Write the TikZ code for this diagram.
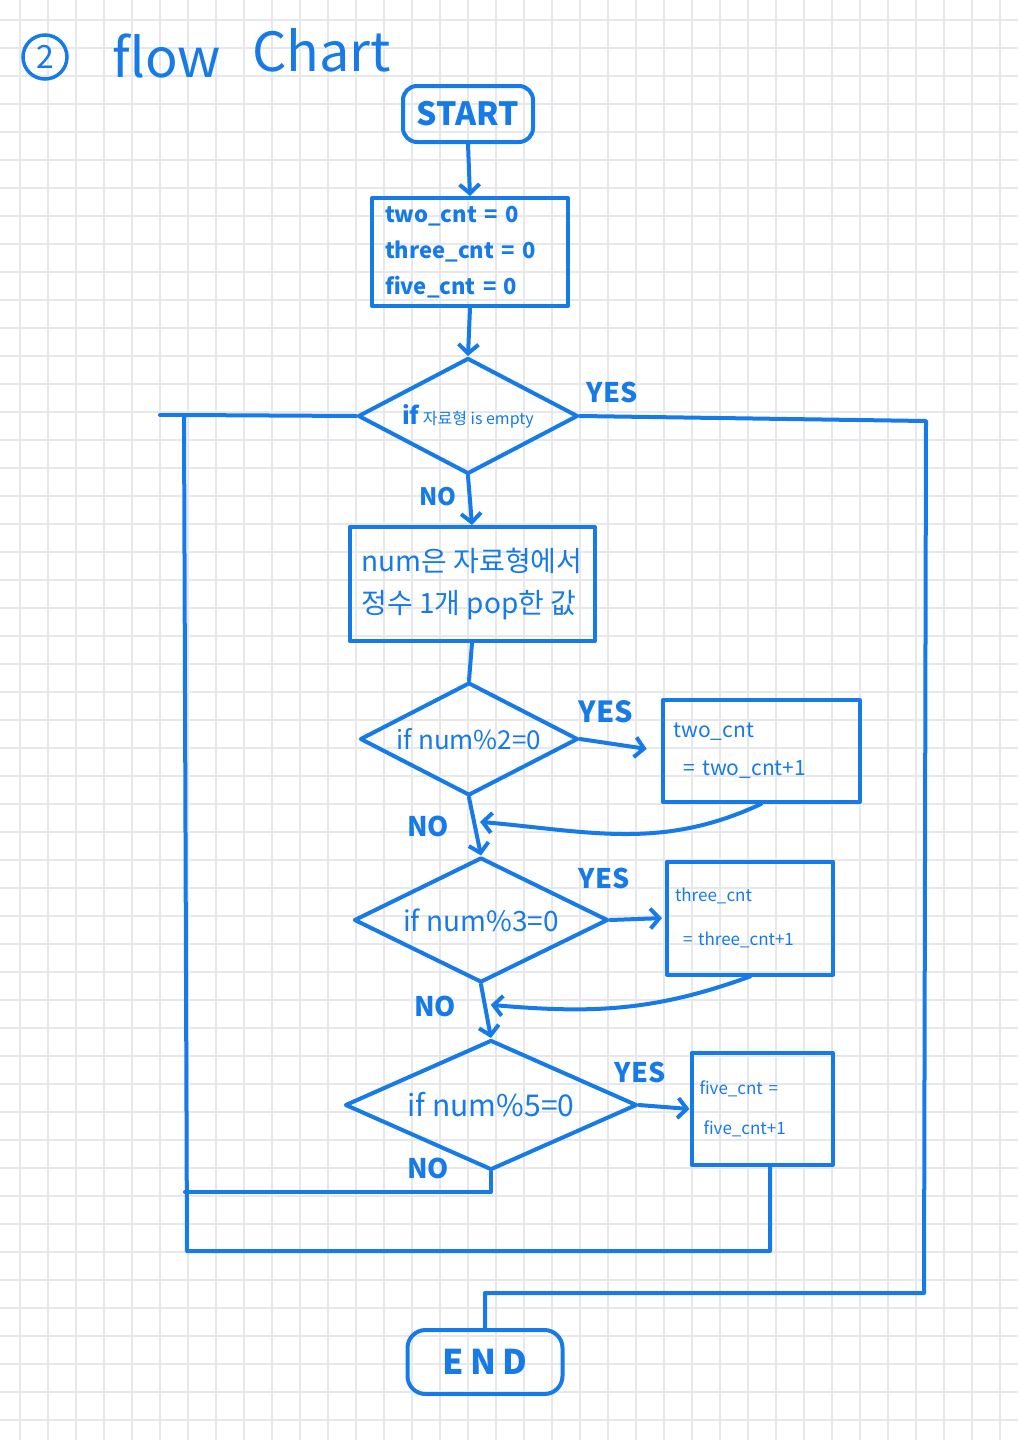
\documentclass[tikz,border=0pt]{standalone}
\usepackage{fontspec}
\usetikzlibrary{shapes.geometric,arrows.meta,calc}
\newfontfamily\hand{Noto Sans CJK KR}
\newcommand\sz[2]{\fontsize{#1}{#2}\selectfont}
\definecolor{ink}{RGB}{22,122,232}
\definecolor{gridline}{RGB}{232,232,236}
\tikzset{
  base/.style={draw=ink, line width=4pt, text=ink, inner sep=0pt, line join=round},
  procbox/.style={base, rectangle},
  termbox/.style={base, rectangle, rounded corners=14pt},
  decision/.style={base, diamond},
  inside/.style={text=ink, inner sep=0pt},
  link/.style={draw=ink, line width=4pt, line join=round, line cap=round},
  flow/.style={link, -{Straight Barb[length=9pt,width=20pt,line width=4pt]}},
  tag/.style={text=ink, inner sep=0pt, font=\hand\bfseries\sz{27}{30}},
}
\begin{document}
\begin{tikzpicture}[x=1pt, y=-1pt]
  % paper with a square grid
  \fill[white] (0,0) rectangle (1018,1440);
  \useasboundingbox (0,0) rectangle (1018,1440);
  \foreach \i in {0,...,35} \draw[gridline, line width=1.4pt] ({20+28*\i},0) -- ++(0,1440);
  \foreach \j in {0,...,50} \draw[gridline, line width=1.4pt] (0,{20+28*\j}) -- ++(1018,0);

  % heading
  \node[circle, draw=ink, line width=3.5pt, minimum size=44pt, inner sep=0pt, text=ink,
        font=\hand\sz{32}{32}] (num) at (45,57) {2};
  \node[anchor=base west, text=ink, inner sep=0pt, font=\hand\sz{54}{54}] (ttlA) at (112,77) {flow};
  \node[anchor=base west, text=ink, inner sep=0pt, font=\hand\sz{54}{54}] (ttlB) at (252,71) {Chart};

  % terminals and processes
  \node[termbox, minimum width=130pt, minimum height=56pt, font=\hand\bfseries\sz{32}{36}]
        (start) at (468,114) {START};
  \node[procbox, minimum width=196pt, minimum height=108pt, text width=170pt, align=left,
        font=\hand\bfseries\sz{22}{36}] (init) at (470,252)
        {two\_cnt = 0\\three\_cnt = 0\\five\_cnt = 0};
  \node[procbox, minimum width=245pt, minimum height=114pt, align=left,
        font=\hand\sz{28}{42}] (take) at (472,584) {num은 자료형에서\\정수 1개 pop한 값};

  % decisions: empty diamonds with the question set on the centre
  \node[decision, minimum width=220pt, minimum height=116pt,
        label={[inside]center:{\hand\bfseries\sz{24}{24}if} {\hand\sz{16}{16}자료형 is empty}}]
        (d1) at (468,416) {};
  \node[decision, minimum width=218pt, minimum height=113pt,
        label={[inside, font=\hand\sz{26}{26}]center:if num\%2=0}] (d2) at (469,739) {};
  \node[decision, minimum width=254pt, minimum height=125pt,
        label={[inside, font=\hand\sz{28}{28}]center:if num\%3=0}] (d3) at (481,920) {};
  \node[decision, minimum width=292pt, minimum height=130pt,
        label={[inside, font=\hand\sz{30}{30}]center:if num\%5=0}] (d4) at (491,1105) {};

  % counters
  \node[procbox, minimum width=197pt, minimum height=102pt, text width=175pt, align=left,
        font=\hand\sz{21}{38}] (two) at (761,751) {two\_cnt\\\hspace*{10pt}= two\_cnt+1};
  \node[procbox, minimum width=166pt, minimum height=113pt, text width=150pt, align=left,
        font=\hand\sz{17}{44}] (three) at (750,918) {three\_cnt\\\hspace*{8pt}= three\_cnt+1};
  \node[procbox, minimum width=141pt, minimum height=112pt, text width=125pt, align=left,
        font=\hand\sz{17}{40}] (five) at (762,1109) {five\_cnt =\\\hspace*{4pt}five\_cnt+1};

  \node[termbox, rounded corners=18pt, minimum width=155pt, minimum height=64pt,
        font=\hand\bfseries\sz{34}{36}\addfontfeature{LetterSpace=18}] (finish) at (485,1362) {END};

  % branch labels
  \node[tag] (y1) at (612,392) {YES};
  \node[tag, font=\hand\bfseries\sz{24}{26}] (n1) at (438,497) {NO};
  \node[tag, font=\hand\bfseries\sz{29}{30}] (y2) at (606,712) {YES};
  \node[tag] (n2) at (428,826) {NO};
  \node[tag] (y3) at (604,878) {YES};
  \node[tag] (n3) at (435,1006) {NO};
  \node[tag] (y4) at (640,1072) {YES};
  \node[tag] (n4) at (428,1168) {NO};

  % main line
  \draw[flow] (start.south) -- (init.north);
  \draw[flow] (init.south) -- (d1.north);
  \draw[flow] (d1.south) -- (take.north);
  \draw[link] (take.south) -- (d2.north);
  \draw[flow] (d2.south) -- (d3.north);
  \draw[flow] (d3.south) -- (d4.north);

  % yes branches
  \draw[flow, shorten >=14pt] (d2.east) -- (two.west);
  \draw[flow, shorten >=3pt] (d3.east) -- (three.west);
  \draw[flow] (d4.east) -- (five.west);

  % returns from the counters
  \coordinate (m2) at ($(d2.south)!0.42!(d3.north)+(6,0)$);
  \coordinate (m3) at ($(d3.south)!0.38!(d4.north)+(6,0)$);
  \draw[flow] (two.south) to[out=-155, in=-5] (m2);
  \draw[flow] (three.south) to[out=-160, in=-5] (m3);

  % loop back to the emptiness test
  \coordinate (lpA) at (185,1192);
  \coordinate (lpB) at (187,1251);
  \coordinate (lpC) at (184,415);
  \coordinate (lpD) at (160,415);
  \draw[link] (d4.south) |- (lpA);
  \draw[link] ($(five.south)+(8,0)$) |- (lpB) -- (lpC) -- (d1.west);
  \draw[link] (lpC) -- (lpD);

  % exit to the end
  \coordinate (rA) at (926,421);
  \coordinate (rB) at (924,1293);
  \draw[link] (d1.east) -- (rA) -- (rB) -| (finish.north);
\end{tikzpicture}
\end{document}
